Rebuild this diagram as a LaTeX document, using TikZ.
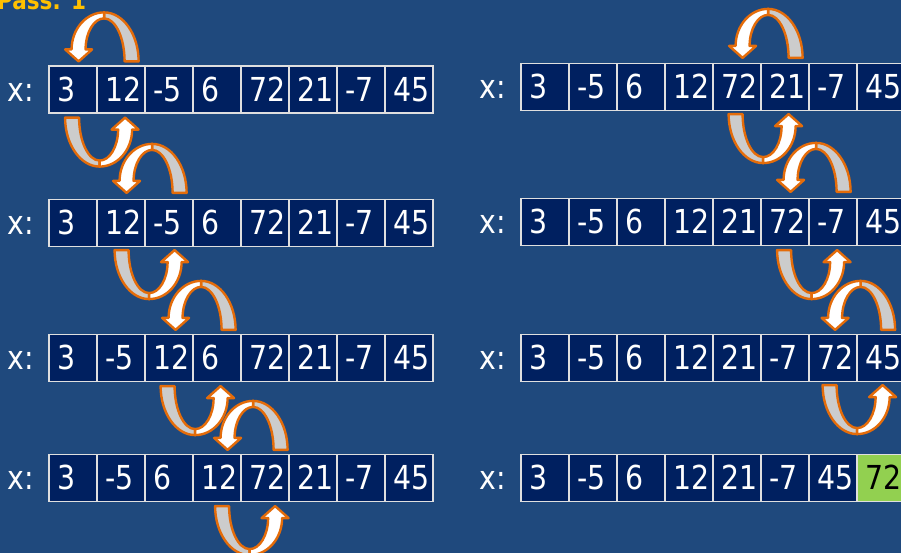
\documentclass[tikz,border=0pt]{standalone}
\usepackage{fontspec}
\setmainfont{DejaVu Sans}[FakeStretch=0.86]
\usepackage{tikz}
\usetikzlibrary{positioning, calc}
\definecolor{slideblue}{HTML}{1F497D}
\definecolor{cellnavy}{HTML}{002060}
\definecolor{arcorange}{HTML}{E46C0A}
\definecolor{arcgrey}{HTML}{CCCCCC}
\definecolor{passgold}{HTML}{FFC000}
\definecolor{donegreen}{HTML}{92D050}

\begin{document}
\begin{tikzpicture}[x=1pt, y=1pt,
    cell/.style={draw=gray!25, line width=1.2pt, fill=cellnavy, text=white, minimum height=47pt, text width=31pt, inner xsep=8.5pt, align=left, text height=24pt, text depth=0pt, font=\fontsize{33}{39}\selectfont},
    arrlabel/.style={text=white, anchor=east, inner sep=0pt, text height=24pt, text depth=0pt, font=\fontsize{33}{39}\selectfont},
    swaparc/.pic={
        \filldraw[fill=arcgrey, draw=arcorange, line width=2.4pt, line join=round]
            (19.5,0) -- (33.5,0) .. controls (33.5,27) and (18,49) .. (-1,49)
            -- (-1,43) .. controls (10.3,43) and (19.5,23.7) .. (19.5,0) -- cycle;
        \filldraw[fill=white, draw=arcorange, line width=2.4pt, line join=round]
            (-1,49) .. controls (-18.9,49) and (-33.5,32.4) .. (-33.5,12)
            -- (-40,12) -- (-26.5,0) -- (-13,12) -- (-19.5,12)
            .. controls (-19.5,29) and (-11.2,43) .. (-1,43) -- cycle;
    }]
    \useasboundingbox (0,0) rectangle (901,553);
    \clip (0,0) rectangle (901,553);
    \fill[slideblue] (0,0) rectangle (901,553);

    \node[text=passgold, anchor=base west, inner sep=0pt, font=\bfseries\fontsize{25}{30}\selectfont] (pass) at (-3,543) {Pass: 1};

    % left column
    \foreach \v [count=\k] in {3,12,-5,6,72,21,-7,45}
        \node[cell] (l1-\k) at (25+48*\k, 463.5) {\v};
    \foreach \v [count=\k] in {3,12,-5,6,72,21,-7,45}
        \node[cell] (l2-\k) at (25+48*\k, 330) {\v};
    \foreach \v [count=\k] in {3,-5,12,6,72,21,-7,45}
        \node[cell] (l3-\k) at (25+48*\k, 195) {\v};
    \foreach \v [count=\k] in {3,-5,6,12,72,21,-7,45}
        \node[cell] (l4-\k) at (25+48*\k, 75) {\v};

    % right column
    \foreach \v [count=\k] in {3,-5,6,12,72,21,-7,45}
        \node[cell] (r1-\k) at (497+48*\k, 466) {\v};
    \foreach \v [count=\k] in {3,-5,6,12,21,72,-7,45}
        \node[cell] (r2-\k) at (497+48*\k, 331) {\v};
    \foreach \v [count=\k] in {3,-5,6,12,21,-7,72,45}
        \node[cell] (r3-\k) at (497+48*\k, 195) {\v};
    \foreach \v [count=\k] in {3,-5,6,12,21,-7,45}
        \node[cell] (r4-\k) at (497+48*\k, 75) {\v};
    \node[cell, fill=donegreen, text=black] (r4-8) at (881, 75) {72};

    \foreach \r in {1,...,4} {
        \node[arrlabel] (xl\r) at ($(l\r-1.west)+(-14,0)$) {x:};
        \node[arrlabel] (xr\r) at ($(r\r-1.west)+(-14,0)$) {x:};
    }

    % compare / step arrows
    \pic at ($(l1-1.north east)+(7.5,4)$) {swaparc};
    \pic[rotate=180] at ($(l1-1.south east)+(1,-4)$) {swaparc};
    \pic at ($(l2-2.north east)+(7.5,6)$) {swaparc};
    \pic[rotate=180] at ($(l2-2.south east)+(2.5,-3)$) {swaparc};
    \pic at ($(l3-3.north east)+(8.5,4)$) {swaparc};
    \pic[rotate=180] at ($(l3-3.south east)+(0.5,-4)$) {swaparc};
    \pic at ($(l4-4.north east)+(12.5,4)$) {swaparc};
    \pic[rotate=180] at ($(l4-4.south east)+(7,-4)$) {swaparc};
    \pic at ($(r1-5.north east)+(7.5,5)$) {swaparc};
    \pic[rotate=180] at ($(r1-5.south east)+(0.5,-3)$) {swaparc};
    \pic at ($(r2-6.north east)+(7.5,6)$) {swaparc};
    \pic[rotate=180] at ($(r2-6.south east)+(1,-4)$) {swaparc};
    \pic at ($(r3-7.north east)+(4,4)$) {swaparc};
    \pic[rotate=180] at ($(r3-7.south east)+(-1.5,-3)$) {swaparc};
\end{tikzpicture}
\end{document}
